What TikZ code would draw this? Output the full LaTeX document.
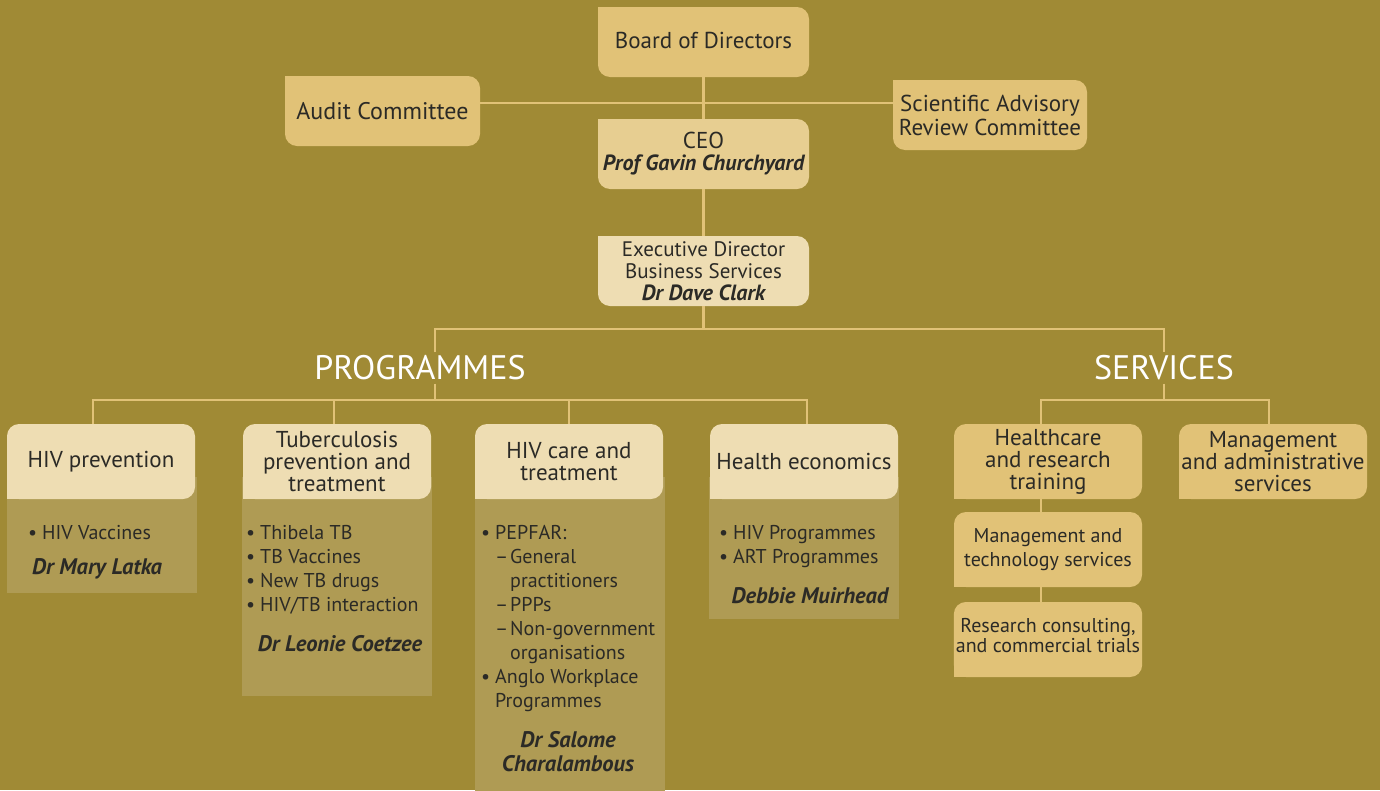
\documentclass[tikz,border=0pt]{standalone}
\usepackage{fontspec}
\setmainfont{PT Sans}
\usetikzlibrary{positioning}
\definecolor{bgc}{HTML}{A08A35}
\definecolor{boxc}{HTML}{E1C277}
\definecolor{ceoc}{HTML}{E7CE91}
\definecolor{headc}{HTML}{EEDDB3}
\definecolor{panelc}{HTML}{AF9B54}
\definecolor{linec}{HTML}{E1C277}
\definecolor{txtc}{HTML}{2B2A26}
\newcommand{\bul}{\makebox[14pt][l]{\textbullet}}
\newcommand{\dsh}{\makebox[15pt][l]{–}}

\begin{document}
\begin{tikzpicture}[x=1pt,y=-1pt]
	\tikzstyle{link}=[draw=linec, line width=2.5pt]
	\tikzstyle{box}=[rectangle, rounded corners=12pt, fill=boxc, text=txtc, align=center, inner sep=2pt, font=\fontsize{23}{22}\selectfont]
	\tikzstyle{topbox}=[box, minimum width=211pt, minimum height=70pt]
	\tikzstyle{head}=[box, fill=headc, minimum width=188pt, minimum height=75pt]
	\tikzstyle{serv}=[box, minimum width=188pt, minimum height=75pt]
	\tikzstyle{panel}=[rectangle, fill=panelc, minimum width=190pt, anchor=north west, inner sep=0pt]
	\tikzstyle{items}=[anchor=north west, align=left, inner sep=0pt, text=txtc, font=\fontsize{20}{24}\selectfont]
	\tikzstyle{who}=[text=txtc, align=center, inner sep=0pt, font=\fontsize{22.5}{24}\selectfont\bfseries\itshape]
	\tikzstyle{title}=[text=white, inner sep=3pt, font=\fontsize{34}{34}\selectfont]
	
	\fill[bgc] (0,0) rectangle (1380,790);
	\useasboundingbox (0,0) rectangle (1380,790);
	
	% Board and committees
	\node[topbox] (board) at (703.5,42) {Board of Directors\rule[-3pt]{0pt}{0pt}};
	\node[topbox, minimum width=195pt, font=\fontsize{24}{22}\selectfont] (audit) at (382.5,111) {Audit Committee};
	\node[topbox, minimum width=194pt, font=\fontsize{23}{24}\selectfont] (sci) at (990,115) {Scientific Advisory\\Review Committee};
	\node[topbox, fill=ceoc] (ceo) at (703.5,154) {CEO\\{\fontsize{22}{24}\selectfont\bfseries\itshape Prof Gavin Churchyard}\rule[-6pt]{0pt}{0pt}};
	\node[topbox, fill=headc, font=\fontsize{21}{22}\selectfont] (exec) at (703.5,271) {Executive Director\\Business Services\\{\fontsize{22}{24}\selectfont\bfseries\itshape Dr Dave Clark}};
	\coordinate (bj) at (703.5,103);
	\coordinate (split) at (703.5,329);
	
	% Titles
	\node[title] (progtitle) at (420,368) {PROGRAMMES};
	\node[title] (sertitle) at (1164,368) {SERVICES};
	\coordinate (pbar) at (435,400);
	\coordinate (sbar) at (1164,400);
	
	% Programme panels
	\node[panel, minimum height=116pt] (hivprevP) at (7,477) {};
	\node[panel, minimum height=219pt] (tbP) at (242,477) {};
	\node[panel, minimum height=320pt] (hivcareP) at (475,477) {};
	\node[panel, minimum height=142pt] (heconP) at (709,477) {};
	
	% Programme headers
	\node[head] (hivprev) at (101,461.5) {HIV prevention};
	\node[head] (tb) at (337,461.5) {Tuberculosis\\prevention and\\treatment};
	\node[head] (hivcare) at (569,461.5) {HIV care and\\treatment};
	\node[head] (hecon) at (804,461.5) {Health economics};
	
	% Services
	\node[serv] (hcare) at (1048,461.5) {Healthcare\\and research\\training};
	\node[serv] (madmin) at (1273,461.5) {Management\\and administrative\\services};
	\node[serv, font=\fontsize{20}{24}\selectfont] (mtech) at (1048,549.5) {Management and\\technology services};
	\node[serv, font=\fontsize{20}{20}\selectfont] (rcons) at (1048,639.5) {Research consulting,\\and commercial trials\rule[-9pt]{0pt}{0pt}};
	
	% square corners
	\foreach \n/\c in {board/boxc,audit/boxc,sci/boxc,ceo/ceoc,exec/headc}
	\fill[\c] (\n.north west) rectangle ++(12pt,-12pt);
	\foreach \n/\c in {hivprev/headc,tb/headc,hivcare/headc,hecon/headc,hcare/boxc,madmin/boxc,mtech/boxc,rcons/boxc}
	\fill[\c] (\n.south west) rectangle ++(12pt,12pt);
	
	% Panel contents
	\node[items] (hivprevL) at (28,525) {\bul HIV Vaccines};
	\node[who] (hivprevW) at (97,569) {Dr Mary Latka};
	\node[items] (tbL) at (246,525) {\bul Thibela TB\\\bul TB Vaccines\\\bul New TB drugs\\\bul HIV/TB interaction};
	\node[who] (tbW) at (340,644) {Dr Leonie Coetzee};
	\node[items] (hivcareL) at (481,525) {\bul PEPFAR:\\\hspace*{14pt}\dsh General\\\hspace*{29pt}practitioners\\\hspace*{14pt}\dsh PPPs\\\hspace*{14pt}\dsh Non-government\\\hspace*{29pt}organisations\\\bul Anglo Workplace\\\hspace*{14pt}Programmes};
	\node[who] (hivcareW) at (568,752) {Dr Salome\\Charalambous};
	\node[items] (heconL) at (719,525) {\bul HIV Programmes\\\bul ART Programmes};
	\node[who] (heconW) at (810,596) {Debbie Muirhead};
	
	% Connections
	\draw[link] (board) -- (ceo);
	\draw[link] (audit.east |- bj) -- (sci.west |- bj);
	\draw[link] (ceo) -- (exec);
	\draw[link] (exec) -- (split);
	\draw[link] ([xshift=15pt]progtitle.north) |- (split) -| (sertitle.north);
	\draw[link] ([xshift=15pt]progtitle.south) -- (pbar);
	\draw[link] ([xshift=-8pt]hivprev.north) |- (pbar) -| ([xshift=3pt]hecon.north);
	\draw[link] ([xshift=-3pt]tb.north) -- ([xshift=-3pt]tb.north |- pbar);
	\draw[link] (hivcare.north) -- (hivcare.north |- pbar);
	\draw[link] (sertitle.south) -- (sbar);
	\draw[link] ([xshift=-7pt]hcare.north) |- (sbar) -| ([xshift=-4pt]madmin.north);
	\draw[link] ([xshift=-7pt]hcare.south) -- ([xshift=-7pt]mtech.north);
	\draw[link] ([xshift=-7pt]mtech.south) -- ([xshift=-7pt]rcons.north);
\end{tikzpicture}
\end{document}
